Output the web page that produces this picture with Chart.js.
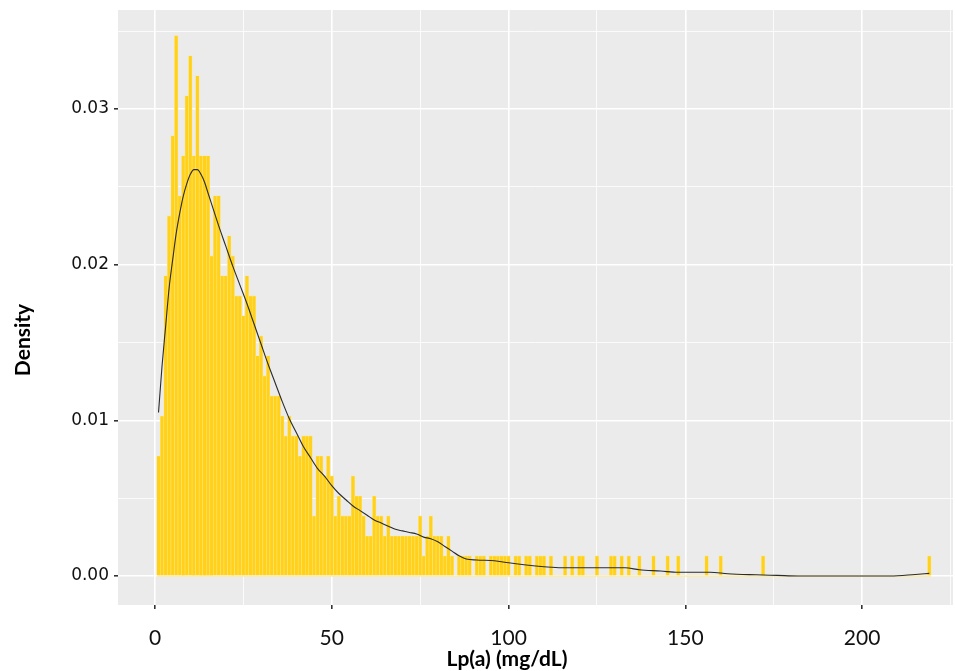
<!DOCTYPE html>
<html>
<head>
<meta charset="utf-8">
<script src="https://cdn.jsdelivr.net/npm/chart.js@4/dist/chart.umd.min.js"></script>
<style>
  body { margin: 0; background: #fff; }
  #histChart { display: block; }
</style>
</head>
<body>
<canvas id="histChart" width="955" height="671"></canvas>
<script>
// histogram bins of width 1, centred on 1..219 (Lp(a) mg/dL)
const binStart = 1;
const densities = [
    0.00771, 0.01028, 0.01928, 0.02313, 0.02827, 0.0347, 0.02442, 0.02699, 0.03084, 0.03341,  // 1-10
    0.02699, 0.03213, 0.02699, 0.02699, 0.02699, 0.02056, 0.02442, 0.02442, 0.01928, 0.01928, // 11-20
    0.02185, 0.02056, 0.01799, 0.01799, 0.01671, 0.01928, 0.01799, 0.01799, 0.01414, 0.01542, // 21-30
    0.01285, 0.01414, 0.01157, 0.01157, 0.01157, 0.01028, 0.009, 0.01028, 0.009, 0.009,       // 31-40
    0.00771, 0.009, 0.009, 0.009, 0.00386, 0.00771, 0.00771, 0.00643, 0.00771, 0.00643,       // 41-50
    0.00386, 0.00514, 0.00386, 0.00386, 0.00386, 0.00643, 0.00514, 0.00514, 0.00386, 0.00257, // 51-60
    0.00257, 0.00514, 0.00386, 0.00386, 0.00257, 0.00386, 0.00257, 0.00257, 0.00257, 0.00257, // 61-70
    0.00257, 0.00257, 0.00257, 0.00257, 0.00386, 0.00129, 0.00257, 0.00386, 0.00257, 0.00257, // 71-80
    0.00257, 0.00129, 0.00257, 0.00129, 0, 0.00129, 0.00129, 0.00129, 0.00129, 0,             // 81-90
    0.00129, 0.00129, 0.00129, 0, 0.00129, 0.00129, 0.00129, 0.00129, 0.00129, 0.00129,       // 91-100
    0, 0.00129, 0.00129, 0, 0.00129, 0.00129, 0, 0.00129, 0.00129, 0.00129,                   // 101-110
    0, 0.00129, 0, 0, 0, 0.00129, 0, 0.00129, 0, 0.00129,                                     // 111-120
    0.00129, 0, 0, 0, 0.00129, 0, 0, 0, 0.00129, 0.00129,                                     // 121-130
    0, 0.00129, 0, 0.00129, 0, 0, 0.00129, 0, 0, 0,                                           // 131-140
    0.00129, 0, 0, 0, 0.00129, 0, 0, 0.00129, 0, 0,                                           // 141-150
    0, 0, 0, 0, 0, 0.00129, 0, 0, 0, 0.00129,                                                 // 151-160
    0, 0, 0, 0, 0, 0, 0, 0, 0, 0,                                                             // 161-170
    0, 0.00129, 0, 0, 0, 0, 0, 0, 0, 0,                                                       // 171-180
    0, 0, 0, 0, 0, 0, 0, 0, 0, 0,                                                             // 181-190
    0, 0, 0, 0, 0, 0, 0, 0, 0, 0,                                                             // 191-200
    0, 0, 0, 0, 0, 0, 0, 0, 0, 0,                                                             // 201-210
    0, 0, 0, 0, 0, 0, 0, 0, 0.00129                                                           // 211-219
];

// kernel density estimate
const kdeX = [1, 2, 3, 4, 5, 6, 7, 8, 9, 10, 11, 12, 13, 14, 15, 16, 18, 20, 22, 24, 26, 28, 30,
    32, 34, 36, 38, 40, 42, 44, 46, 48, 50, 52, 54, 56, 58, 60, 62, 64, 66, 68, 70, 72, 74, 76,
    78, 80, 82, 84, 86, 88, 91, 96, 100, 105, 110, 115, 133, 137, 143, 148, 157, 162, 170, 176,
    182, 208, 215, 219];
const kdeY = [0.0105, 0.0135, 0.0160, 0.0185, 0.0203, 0.0220, 0.0233, 0.0244, 0.0252, 0.0258,
    0.0261, 0.0261, 0.0258, 0.0253, 0.0246, 0.0239, 0.0225, 0.0212, 0.0199, 0.0187, 0.0175,
    0.0162, 0.0149, 0.0136, 0.0124, 0.0112, 0.0101, 0.0092, 0.0083, 0.0076, 0.0069, 0.0064,
    0.0058, 0.0053, 0.0049, 0.0045, 0.0042, 0.0039, 0.0036, 0.0034, 0.0032, 0.0030, 0.0029,
    0.0028, 0.0027, 0.0025, 0.0024, 0.0022, 0.0019, 0.0016, 0.0013, 0.0011, 0.00103, 0.00098,
    0.00085, 0.00071, 0.0006, 0.00053, 0.00053, 0.0004, 0.00032, 0.00024, 0.00024, 0.00015,
    0.00008, 0.00004, 0, 0, 0.0001, 0.00017];

const xTicks = [0, 50, 100, 150, 200];
const yTicks = [0, 0.01, 0.02, 0.03];
const xTitle = 'Lp(a) (mg/dL)';
const yTitle = 'Density';

const bars = densities.map((d, i) => ({ x: binStart + i, y: d > 0 ? d : null }));
const curve = kdeX.map((x, i) => ({ x: x, y: kdeY[i] }));

const isMajorX = v => xTicks.some(t => Math.abs(t - v) < 1e-6);
const isMajorY = v => yTicks.some(t => Math.abs(t - v) < 1e-6);

const panelPlugin = {
    id: 'panel',
    beforeDraw(chart) {
        const a = chart.chartArea;
        const c = chart.ctx;
        c.save();
        c.fillStyle = '#EBEBEB';
        c.fillRect(a.left, a.top, a.right - a.left, a.bottom - a.top);
        c.restore();
    },
    beforeDatasetsDraw(chart) {
        // outline of the empty bins along the baseline
        const xs = chart.scales.x, ys = chart.scales.y;
        const c = chart.ctx;
        c.save();
        c.strokeStyle = '#FFE27A';
        c.lineWidth = 1;
        c.beginPath();
        c.moveTo(xs.getPixelForValue(binStart - 0.5), ys.getPixelForValue(0));
        c.lineTo(xs.getPixelForValue(binStart + densities.length - 0.5), ys.getPixelForValue(0));
        c.stroke();
        c.restore();
    },
    afterDraw(chart) {
        const c = chart.ctx;
        c.save();
        c.fillStyle = '#000';
        c.font = 'bold 21px Lato';
        c.textAlign = 'center';
        c.textBaseline = 'middle';
        c.fillText(xTitle, 507, 659);
        c.translate(23, 340);
        c.rotate(-Math.PI / 2);
        c.fillText(yTitle, 0, 0);
        c.restore();
    }
};

const ctx = document.getElementById('histChart').getContext('2d');

new Chart(ctx, {
    type: 'bar',
    data: {
        datasets: [{
            type: 'line',
            data: curve,
            borderColor: '#2b2b2b',
            borderWidth: 1.1,
            pointRadius: 0,
            cubicInterpolationMode: 'monotone',
            order: 1
        }, {
            type: 'bar',
            data: bars,
            backgroundColor: '#FFD11A',
            borderColor: '#FFE57A',
            borderWidth: 0.6,
            barPercentage: 1,
            categoryPercentage: 1,
            order: 2
        }]
    },
    options: {
        responsive: false,
        animation: false,
        layout: { padding: { top: 10, right: 2, left: 0, bottom: 0 } },
        plugins: {
            legend: { display: false },
            tooltip: { enabled: false }
        },
        scales: {
            x: {
                type: 'linear',
                min: -10.46,
                max: 225.7,
                offset: false,
                border: { display: false },
                grid: {
                    offset: false,
                    color: '#FFFFFF',
                    lineWidth: c => (c.tick && isMajorX(c.tick.value)) ? 1.6 : 0.8,
                    tickLength: 4,
                    tickColor: c => (c.tick && isMajorX(c.tick.value)) ? '#333333' : 'rgba(0,0,0,0)'
                },
                ticks: {
                    stepSize: 25,
                    includeBounds: false,
                    autoSkip: false,
                    maxRotation: 0,
                    padding: 17,
                    color: '#111',
                    font: { family: 'Lato', size: 21 },
                    callback: v => isMajorX(v) ? String(v) : ''
                },
                afterFit: s => {
                    s.height = 66;
                    s.paddingLeft = 0;
                    s.paddingRight = 0;
                }
            },
            y: {
                type: 'linear',
                min: -0.00186,
                max: 0.03635,
                border: { display: false },
                grid: {
                    color: '#FFFFFF',
                    lineWidth: c => (c.tick && isMajorY(c.tick.value)) ? 1.6 : 0.8,
                    tickLength: 4,
                    tickColor: c => (c.tick && isMajorY(c.tick.value)) ? '#333333' : 'rgba(0,0,0,0)'
                },
                ticks: {
                    stepSize: 0.005,
                    includeBounds: false,
                    autoSkip: false,
                    padding: 5,
                    color: '#111',
                    font: { family: 'DejaVu Sans', size: 17 },
                    callback: v => isMajorY(v) ? v.toFixed(2) : ''
                },
                afterFit: s => {
                    s.width = 118;
                    s.paddingTop = 0;
                    s.paddingBottom = 0;
                }
            }
        }
    },
    plugins: [panelPlugin]
});
</script>
</body>
</html>
